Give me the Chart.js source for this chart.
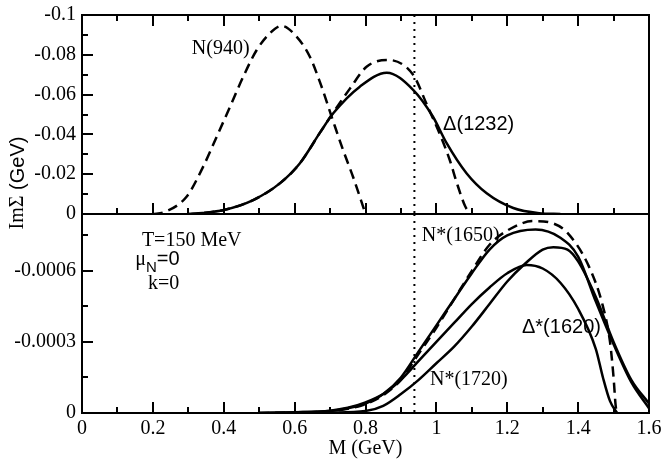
<!DOCTYPE html>
<html>
<head>
<meta charset="utf-8">
<script src="https://cdn.jsdelivr.net/npm/chart.js@4/dist/chart.umd.min.js"></script>
<style>
  html,body{margin:0;padding:0;background:#fff;}
  #wrap{position:relative;width:663px;height:459px;}
  #wrap canvas{position:absolute;left:0;top:0;}
</style>
</head>
<body>
<div id="wrap">
  <canvas id="topChart" width="663" height="459"></canvas>
  <canvas id="botChart" width="663" height="459"></canvas>
</div>
<script>
// ---- top panel: N(940) and Delta(1232), Im Sigma in GeV ----
const n940M   = [0.2,0.23,0.295,0.342,0.38,0.418,0.455,0.493,0.53,0.563,0.606,0.643,0.672,0.708,0.737,0.765,0.789,0.8];
const n940Im  = [0,-0.0008,-0.0087,-0.0238,-0.0388,-0.054,-0.069,-0.0824,-0.0908,-0.0945,-0.089,-0.079,-0.066,-0.047,-0.032,-0.0186,-0.006,0];

const d1232M  = [0.3,0.34,0.4,0.483,0.559,0.615,0.672,0.709,0.784,0.86,0.935,0.99,1.029,1.085,1.142,1.217,1.29,1.35];
const d1232Im = [0,-0.0005,-0.002,-0.007,-0.0155,-0.0255,-0.041,-0.0506,-0.064,-0.071,-0.0623,-0.049,-0.0356,-0.0205,-0.0104,-0.003,-0.0004,0];

const d1232dM  = [0.3,0.34,0.4,0.483,0.559,0.615,0.672,0.709,0.756,0.803,0.863,0.935,0.973,1.01,1.038,1.057,1.081,1.095];
const d1232dIm = [0,-0.0005,-0.002,-0.007,-0.0155,-0.0255,-0.041,-0.051,-0.063,-0.074,-0.0774,-0.0698,-0.055,-0.040,-0.027,-0.016,-0.004,0];

// ---- bottom panel: resonances ----
const n1650M  = [0.5,0.6,0.7,0.75,0.8,0.85,0.9,0.95,1.0,1.05,1.1,1.15,1.2,1.28,1.35,1.4,1.45,1.5,1.55,1.6];
const n1650Im = [0,-0.000003,-0.000008,-0.00002,-0.00004,-0.00008,-0.00015,-0.00026,-0.00037,-0.00048,-0.00059,-0.00069,-0.00075,-0.000775,-0.00074,-0.00066,-0.00047,-0.00029,-0.00013,-0.00002];

const dashM  = [0.5,0.6,0.7,0.75,0.8,0.85,0.9,0.95,1.0,1.05,1.1,1.15,1.2,1.273,1.33,1.37,1.43,1.47,1.49,1.5,1.506,1.51];
const dashIm = [0,-0.000002,-0.000007,-0.000018,-0.000037,-0.000075,-0.00014,-0.00025,-0.00036,-0.00048,-0.0006,-0.00071,-0.00077,-0.00081,-0.0008,-0.00076,-0.00062,-0.00045,-0.0003,-0.00015,-0.00003,0];

const midM  = [0.5,0.6,0.7,0.75,0.8,0.85,0.9,0.95,1.0,1.05,1.1,1.15,1.2,1.255,1.3,1.35,1.4,1.45,1.47,1.49,1.51];
const midIm = [0,-0.000003,-0.00001,-0.000022,-0.000045,-0.00008,-0.00014,-0.00022,-0.0003,-0.00038,-0.00046,-0.00053,-0.00059,-0.000625,-0.00061,-0.00055,-0.00044,-0.00027,-0.00015,-0.00005,0];

const n1720M  = [0.6,0.7,0.8,0.85,0.9,0.95,1.0,1.05,1.1,1.15,1.2,1.25,1.3,1.33,1.37,1.4,1.45,1.5,1.55,1.6];
const n1720Im = [0,-0.000002,-0.000008,-0.00003,-0.00008,-0.00014,-0.00021,-0.00028,-0.000365,-0.00046,-0.000555,-0.00063,-0.00069,-0.0007,-0.00069,-0.00064,-0.00049,-0.0003,-0.00014,-0.00004];

const mNucleon = 0.938;

const SERIF = '20px "Liberation Serif"';
const SANS  = '20px "Liberation Sans"';

function pts(xs, ys){ return xs.map((v,i)=>({x:v, y:ys[i]})); }
function curve(xs, ys, dashed){
  return {data:pts(xs,ys), borderColor:'#000', borderWidth:2.5, borderDash:dashed?[10,6]:[],
          pointRadius:0, fill:false, cubicInterpolationMode:'monotone'};
}
function dotted(yMin){
  return {data:[{x:mNucleon,y:yMin},{x:mNucleon,y:0}], borderColor:'#000', borderWidth:2,
          borderDash:[2,5], pointRadius:0, fill:false};
}

// frame with inward ticks + text notes, one plugin per panel
function makeDeco(cfg){
  return {
    id:'deco',
    afterDatasetsDraw(chart){
      const ctx = chart.ctx, a = chart.chartArea, xs = chart.scales.x, ys = chart.scales.y;
      ctx.save();
      ctx.setLineDash([]);
      ctx.fillStyle = '#000';
      const L = Math.round(a.left), R = Math.round(a.right), T = Math.round(a.top), B = Math.round(a.bottom);
      ctx.fillRect(L-1, T-1, R-L+2, 2);
      ctx.fillRect(L-1, B-1, R-L+2, 2);
      ctx.fillRect(L-1, T-1, 2, B-T+2);
      ctx.fillRect(R-1, T-1, 2, B-T+2);
      for(let i=0;i<=16;i++){
        const px = Math.round(xs.getPixelForValue(i/10));
        const len = (i%2===1) ? 6 : 11;
        ctx.fillRect(px-1, B-len, 2, len);
        if(cfg.topTicks) ctx.fillRect(px-1, T, 2, len);
      }
      const n = Math.floor(cfg.yMin/cfg.yMinor + 1e-6);
      for(let i=0;i<=n;i++){
        const py = Math.round(ys.getPixelForValue(-i*cfg.yMinor));
        const len = (i%2===1) ? 6 : 11;
        ctx.fillRect(L, py-1, len, 2);
      }
      ctx.textBaseline='middle'; ctx.textAlign='left';
      cfg.items.forEach(it=>{
        let px = xs.getPixelForValue(it.m);
        const py = ys.getPixelForValue(it.v);
        it.parts.forEach(p=>{ ctx.font=p.font; ctx.fillText(p.t, px, py+(p.dy||0)); px += ctx.measureText(p.t).width; });
      });
      if(cfg.yTitle){
        ctx.translate(18, 183); ctx.rotate(-Math.PI/2);
        ctx.font=SERIF; const w1=ctx.measureText('ImΣ').width;
        ctx.font=SANS;  const w2=ctx.measureText(' (GeV)').width;
        const sx = -(w1+w2)/2;
        ctx.font=SERIF; ctx.fillText('ImΣ', sx, 0);
        ctx.font=SANS;  ctx.fillText(' (GeV)', sx+w1, 0);
      }
      ctx.restore();
    }
  };
}

Chart.defaults.font.family = '"Liberation Serif"';
Chart.defaults.font.size = 20;
Chart.defaults.color = '#000';

const yTick = (fmt)=>({display:true, padding:6, font:{size:20, family:'"Liberation Serif"'}, color:'#000', callback:fmt});

const topItems = [
  {m:0.31, v:-0.0829, parts:[{t:'N(940)', font:SERIF}]},
  {m:1.019, v:-0.0452, parts:[{t:'Δ(1232)', font:SANS}]}
];
const botItems = [
  {m:0.169, v:-0.000727, parts:[{t:'T=150 MeV', font:SERIF}]},
  {m:0.15, v:-0.000646, parts:[{t:'μ', font:SERIF},{t:'N', font:'15px "Liberation Sans"', dy:8},{t:'=0', font:SANS}]},
  {m:0.186, v:-0.000545, parts:[{t:'k=0', font:SERIF}]},
  {m:0.959, v:-0.000748, parts:[{t:'N*(1650)', font:SERIF}]},
  {m:1.2415, v:-0.000359, parts:[{t:'Δ*(1620)', font:SANS}]},
  {m:0.982, v:-0.000139, parts:[{t:'N*(1720)', font:SERIF}]}
];

new Chart(document.getElementById('topChart'), {
  type:'line',
  data:{datasets:[
    curve(n940M, n940Im, true),
    curve(d1232M, d1232Im, false),
    curve(d1232dM, d1232dIm, true),
    dotted(-0.1)
  ]},
  options:{
    responsive:false, animation:false, devicePixelRatio:1,
    layout:{padding:{left:0,right:14,top:15,bottom:245}},
    plugins:{legend:{display:false}, tooltip:{enabled:false}},
    scales:{
      x:{type:'linear', min:0, max:1.6, display:false},
      y:{type:'linear', reverse:true, min:-0.1, max:0,
         grid:{display:false, drawTicks:false}, border:{display:false},
         ticks:Object.assign(yTick(v=>Math.abs(v)<1e-9?'0':String(+v.toFixed(2))), {stepSize:0.02}),
         afterFit(s){ s.width = 82; s.paddingTop = 0; s.paddingBottom = 0; }}
    }
  },
  plugins:[makeDeco({topTicks:true, yMin:0.1, yMinor:0.01, items:topItems, yTitle:true})]
});

new Chart(document.getElementById('botChart'), {
  type:'line',
  data:{datasets:[
    curve(n1650M, n1650Im, false),
    curve(dashM, dashIm, true),
    curve(midM, midIm, false),
    curve(n1720M, n1720Im, false),
    dotted(-0.00084)
  ]},
  options:{
    responsive:false, animation:false, devicePixelRatio:1,
    layout:{padding:{left:0,right:14,top:214,bottom:0}},
    plugins:{legend:{display:false}, tooltip:{enabled:false}},
    scales:{
      x:{type:'linear', min:0, max:1.6,
         grid:{display:false, drawTicks:false}, border:{display:false},
         ticks:{stepSize:0.2, padding:4, maxRotation:0, autoSkip:false, color:'#000',
                font:{size:20, family:'"Liberation Serif"'}, callback:v=>String(+v.toFixed(1))},
         title:{display:true, text:'M (GeV)', color:'#000', padding:0,
                font:{size:20, family:'"Liberation Serif"', lineHeight:1}},
         afterFit(s){ s.height = 46; s.paddingRight = 0; s.paddingLeft = 0; }},
      y:{type:'linear', reverse:true, min:-0.00084, max:0,
         grid:{display:false, drawTicks:false}, border:{display:false},
         ticks:Object.assign(yTick(v=>{
             if(Math.abs(v)<1e-12) return '0';
             const k=v/0.0003; if(Math.abs(k-Math.round(k))>1e-6) return null;
             return v.toFixed(4);
           }), {stepSize:0.0003}),
         afterFit(s){ s.width = 82; s.paddingTop = 0; s.paddingBottom = 0; }}
    }
  },
  plugins:[makeDeco({topTicks:false, yMin:0.00084, yMinor:0.00015, items:botItems, yTitle:false})]
});
</script>
</body>
</html>
